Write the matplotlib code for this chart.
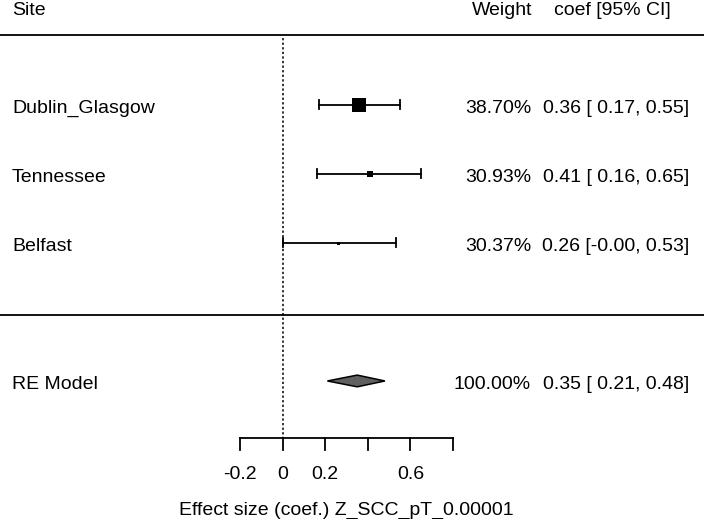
import matplotlib
matplotlib.use('Agg')
import matplotlib.pyplot as plt
import numpy as np

# Datos del forest plot
sitios = ['Dublin_Glasgow', 'Tennessee', 'Belfast']
coef = [0.36, 0.41, 0.26]
ci_inf = [0.17, 0.16, -0.00]
ci_sup = [0.55, 0.65, 0.53]
pesos = [38.70, 30.93, 30.37]

re_coef = 0.35
re_inf = 0.21
re_sup = 0.48
re_peso = 100.00

ticks = [-0.2, 0, 0.2, 0.4, 0.6, 0.8]
tick_labels = ['-0.2', '0', '0.2', '', '0.6', '']
xlabel = 'Effect size (coef.) Z_SCC_pT_0.00001'

plt.rcParams['font.family'] = ['Liberation Sans', 'DejaVu Sans']
fs = 14

fig = plt.figure(figsize=(7.04, 5.19), dpi=100)
ax = fig.add_axes([0, 0, 1, 1])
ax.axis('off')
ax.set_xlim(-1.327, 1.978)
ax.set_ylim(-3.0, 4.52)

# filas como en metafor: estudios k..1, modelo en -1
k = len(sitios)
filas = np.arange(k, 0, -1)
fila_re = -1

# columnas de texto (en unidades de datos del eje x)
def px(p):
    return -1.327 + p / 704 * (1.978 + 1.327)

x_nombre = px(12)
x_peso = px(531)
x_ci = px(689)
# desplazamiento a la linea base del texto
db = 0.116


def texto(x, y, s, ha):
    ax.text(x, y - db, s, ha=ha, va='baseline', fontsize=fs)


# lineas horizontales
ax.axhline(k + 1.01, color='black', lw=1.3)
ax.axhline(-0.04, color='black', lw=1.3)

# linea punteada en 0
ax.plot([0, 0], [k + 0.97, -1.83], color='black', lw=1.1, ls=(0, (1.5, 1.5)))

# tamanio de cuadros como en metafor (1/se)
se = (np.array(ci_sup) - np.array(ci_inf)) / 3.92
wi = 1 / se
psize = 3 + (wi - wi.min()) / (wi.max() - wi.min()) * 11

for i in range(k):
    y = filas[i]
    ax.plot([ci_inf[i], ci_sup[i]], [y, y], color='black', lw=1.3)
    for xe in (ci_inf[i], ci_sup[i]):
        ax.plot([xe, xe], [y - 0.065, y + 0.065], color='black', lw=1.3)
    ax.plot(coef[i], y, marker='s', color='black', ms=psize[i] * 0.72, mew=0)
    texto(x_nombre, y, sitios[i], 'left')
    texto(x_peso, y, f'{pesos[i]:.2f}%', 'right')
    texto(x_ci, y, f'{coef[i]:.2f} [{ci_inf[i]:5.2f}, {ci_sup[i]:.2f}]', 'right')

# diamante del modelo RE
h = 0.085
ax.fill([re_inf, re_coef, re_sup, re_coef], [fila_re, fila_re + h, fila_re, fila_re - h],
        facecolor='#606060', edgecolor='black', lw=1.1)
texto(x_nombre, fila_re, 'RE Model', 'left')
texto(x_peso, fila_re, f'{re_peso:.2f}%', 'right')
texto(x_ci, fila_re, f'{re_coef:.2f} [{re_inf:5.2f}, {re_sup:.2f}]', 'right')

# encabezados
y_enc = k + 1.416
texto(x_nombre, y_enc, 'Site', 'left')
texto(px(532), y_enc, 'Weight', 'right')
texto(px(671), y_enc, 'coef [95% CI]', 'right')

# eje x manual
y_eje = -1.83
ax.plot([ticks[0], ticks[-1]], [y_eje, y_eje], color='black', lw=1.3)
for t, lab in zip(ticks, tick_labels):
    ax.plot([t, t], [y_eje, y_eje - 0.17], color='black', lw=1.3)
    if lab:
        texto(t, -2.31, lab, 'center')
texto((ticks[0] + ticks[-1]) / 2, -2.82, xlabel, 'center')

fig.savefig('out.png', dpi=100)
